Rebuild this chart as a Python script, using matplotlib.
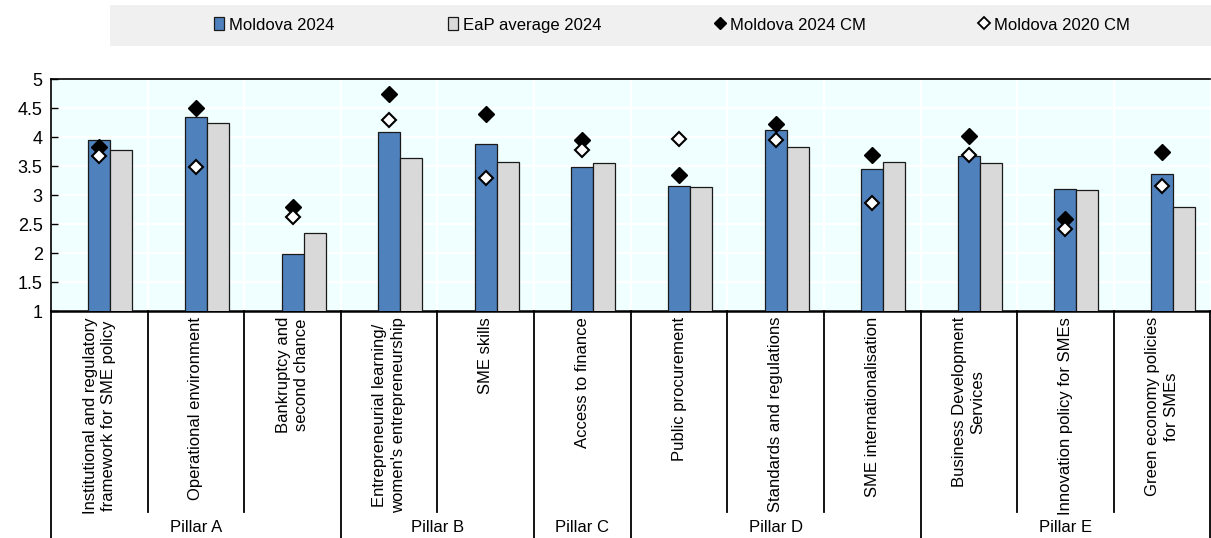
import numpy as np
import matplotlib
matplotlib.use("Agg")
import matplotlib.pyplot as plt
from matplotlib.patches import Rectangle
from matplotlib.lines import Line2D

# -------------------------------------------------------
# DATOS
# -------------------------------------------------------
categories = [
    "Institutional and regulatory\nframework for SME policy",
    "Operational environment",
    "Bankruptcy and\nsecond chance",
    "Entrepreneurial learning/\nwomen's entrepreneurship",
    "SME skills",
    "Access to finance",
    "Public procurement",
    "Standards and regulations",
    "SME internationalisation",
    "Business Development\nServices",
    "Innovation policy for SMEs",
    "Green economy policies\nfor SMEs",
]
moldova_2024    = [3.94, 4.34, 1.99, 4.09, 3.88, 3.48, 3.15, 4.12, 3.45, 3.68, 3.10, 3.37]
eap_avg_2024    = [3.78, 4.24, 2.34, 3.63, 3.57, 3.56, 3.14, 3.82, 3.57, 3.56, 3.08, 2.80]
moldova_2024_cm = [3.82, 4.50, 2.80, 4.74, 4.40, 3.94, 3.34, 4.22, 3.69, 4.01, 2.58, 3.74]
moldova_2020_cm = [3.67, 3.48, 2.62, 4.29, 3.30, 3.78, 3.97, 3.95, 2.86, 3.69, 2.41, 3.15]

pillars      = ["Pillar A", "Pillar B", "Pillar C", "Pillar D", "Pillar E"]
pillar_sizes = [3, 2, 1, 3, 3]

series_names = ["Moldova 2024", "EaP average 2024", "Moldova 2024 CM", "Moldova 2020 CM"]

# -------------------------------------------------------
# ESTILO
# -------------------------------------------------------
plt.rcParams['font.family'] = ['Liberation Sans', 'DejaVu Sans']
BLUE   = '#4F81BD'
GRAY   = '#D9D9D9'
BG     = '#F0FFFF'
EDGE   = '#1a1a1a'
FS     = 12

fig = plt.figure(figsize=(12.11, 5.38), dpi=100)
ax = fig.add_axes([51/1211, 1 - 311/538, 1 - 51/1211 - 0.0005, (311 - 79)/538])
ax.set_facecolor(BG)

x = np.arange(len(categories))
w = 0.2275

ax.bar(x, moldova_2024, width=w, color=BLUE, edgecolor=EDGE,
       linewidth=0.9, zorder=3, label=series_names[0])
ax.bar(x + w, eap_avg_2024, width=w, color=GRAY, edgecolor=EDGE,
       linewidth=0.9, zorder=3, label=series_names[1])
ax.plot(x, moldova_2024_cm, 'D', color='black', ms=8, mec='black',
        zorder=5, label=series_names[2])
ax.plot(x, moldova_2020_cm, 'D', color='white', ms=7.5, mec='black',
        mew=1.5, zorder=6, label=series_names[3])

ax.set_xlim(-0.5, len(categories) - 0.5)
ax.set_ylim(1, 5)
yt = np.arange(1, 5.01, 0.5)
ax.set_yticks(yt)
ax.set_yticklabels([f"{v:g}" for v in yt], fontsize=13)
ax.tick_params(axis='y', direction='in', length=5, width=1, pad=6)
ax.set_xticks([])

# rejilla blanca
for yv in np.arange(1.5, 5.0, 0.5):
    ax.axhline(yv, color='white', lw=1.5, zorder=1)
for xb in np.arange(0.5, len(categories) - 0.5, 1):
    ax.axvline(xb, color='white', lw=1.5, zorder=1)

for s in ['top', 'left']:
    ax.spines[s].set_linewidth(1.2)
ax.spines['bottom'].set_linewidth(1.8)
ax.spines['right'].set_visible(False)

# -------------------------------------------------------
# ETIQUETAS DE CATEGORÍA Y PILARES
# -------------------------------------------------------
trans = ax.get_xaxis_transform()
ax_h = 311 - 79
y_cat_end = -(512 - 311) / ax_h
y_bottom  = -(540 - 311) / ax_h

for i, lab in enumerate(categories):
    ax.text(i, -6 / ax_h, lab, transform=trans, rotation=90, ha='center',
            va='top', fontsize=FS, multialignment='center', linespacing=1.3)

bounds = np.cumsum([0] + pillar_sizes)
pillar_edges = set(bounds)
for b in range(len(categories) + 1):
    xb = b - 0.5
    y0 = y_bottom if b in pillar_edges else y_cat_end
    ax.plot([xb, xb], [0, y0], color='black', lw=1.3, transform=trans,
            clip_on=False, zorder=4)

for name, a, b in zip(pillars, bounds[:-1], bounds[1:]):
    ax.text((a + b - 1) / 2, -(527 - 311) / ax_h, name, transform=trans,
            ha='center', va='center', fontsize=FS)

# -------------------------------------------------------
# LEYENDA
# -------------------------------------------------------
fig.patches.append(Rectangle((110/1211, 1 - 46/538), 1 - 110/1211, 41/538,
                             transform=fig.transFigure, facecolor='#F0F0F0',
                             edgecolor='none', zorder=0))
handles = [
    Rectangle((0, 0), 1, 1, facecolor=BLUE, edgecolor=EDGE, lw=0.9),
    Rectangle((0, 0), 1, 1, facecolor=GRAY, edgecolor=EDGE, lw=0.9),
    Line2D([], [], marker='D', ls='', color='black', ms=6.5),
    Line2D([], [], marker='D', ls='', color='white', mec='black', mew=1.3, ms=6.5),
]
fig.legend(handles, series_names, loc='center',
           bbox_to_anchor=(672/1211, 1 - 25/538), ncol=4, frameon=False,
           fontsize=FS, handlelength=0.6, handleheight=0.8,
           handletextpad=0.3, columnspacing=6.8, borderpad=0)

fig.savefig("out.png", dpi=100)
